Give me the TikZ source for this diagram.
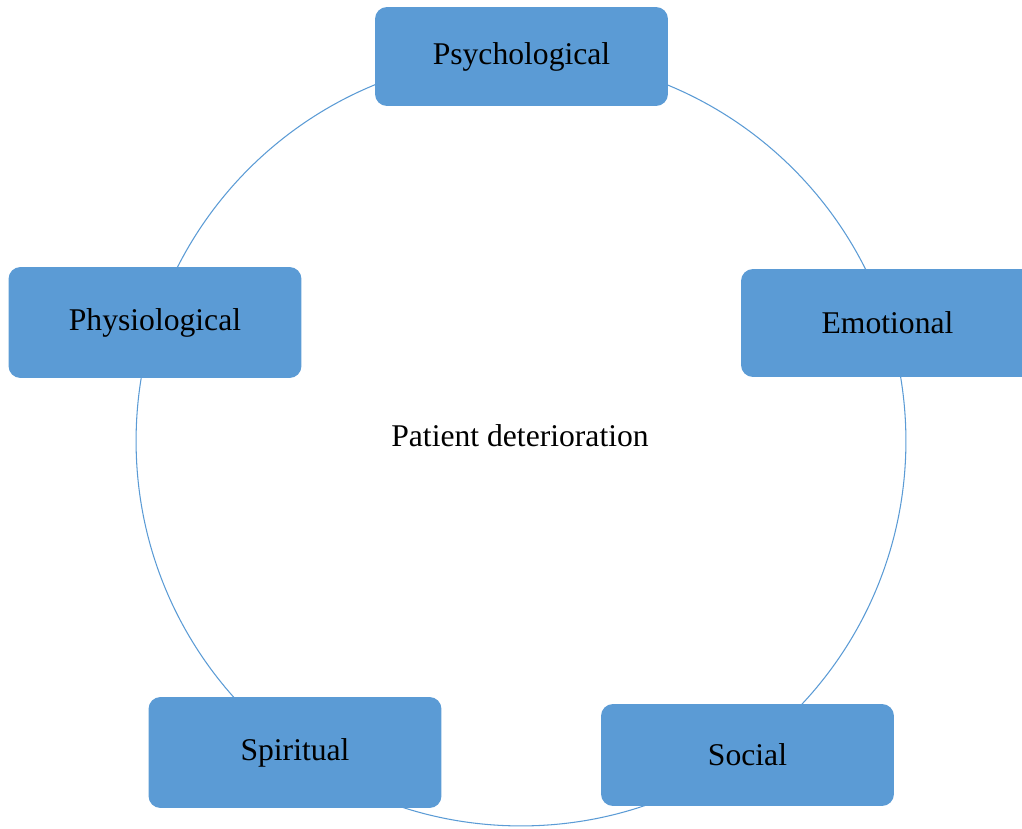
\documentclass[tikz,border=0pt]{standalone}
\usepackage{fontspec}
\setmainfont{Liberation Serif}
\definecolor{boxblue}{HTML}{5B9BD5}

\begin{document}
\begin{tikzpicture}[x=0.02cm,y=-0.02cm,
    facet/.style={fill=boxblue, rounded corners=0.24cm, minimum width=5.86cm,
      inner sep=0pt, font=\fontsize{18}{21}\selectfont},
    ring/.style={draw=boxblue, line width=0.6pt}]
      \useasboundingbox (0,0) rectangle (1022,829);
      \clip (0,0) rectangle (1022,829);
      \coordinate (mid) at (521,441);
      \draw[ring] (mid) circle (7.7cm);
      \node[font=\fontsize{18}{21}\selectfont] (centre) at (520,436) {Patient deterioration};
      \node[facet, minimum height=1.98cm] (psych) at (521.5,56.5) {Psychological};
      \node[facet, minimum height=2.22cm] (physio) at (155,322.5) {Physiological};
      \node[facet, minimum height=2.16cm] (emot) at (887.5,323) {Emotional};
      \node[facet, minimum height=2.22cm] (spirit) at (295,752.5) {Spiritual};
      \node[facet, minimum height=2.04cm] (soc) at (747.5,755) {Social};
    \end{tikzpicture}
\end{document}
